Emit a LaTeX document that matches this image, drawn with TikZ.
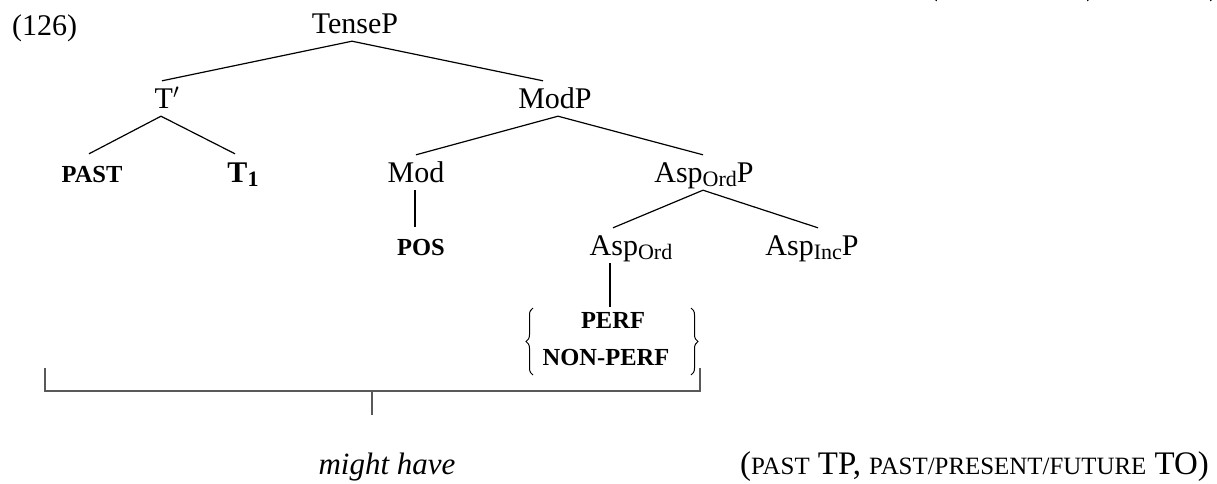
\documentclass[tikz,border=0pt]{standalone}
\usepackage{fontspec}
\setmainfont{Liberation Serif}
\usetikzlibrary{calc,decorations.pathreplacing}

% label sizes
\newcommand{\catsize}{\fontsize{30}{34}\selectfont}
\newcommand{\featsize}{\fontsize{24.5}{28}\selectfont\bfseries}
\newcommand{\subsz}[1]{\raisebox{-4pt}{\fontsize{22}{24}\selectfont #1}}
\newcommand{\fakesc}[1]{{\fontsize{24.9}{27}\selectfont #1}}

\begin{document}
\begin{tikzpicture}[x=1pt,y=-1pt,
    cat/.style={inner sep=0pt,anchor=base,text height=27pt,text depth=8pt,font=\catsize},
    feat/.style={inner sep=0pt,anchor=base,text height=28pt,text depth=6pt,font=\featsize},
    branch/.style={line width=1.2pt,black},
    span/.style={line width=1.3pt,black!65},
    curly/.style={line width=1pt,decorate,decoration={brace,amplitude=7pt,aspect=0.5}}]
  \useasboundingbox (0,0) rectangle (1217,483);

  % fragments of the line above
  \node[inner sep=0pt,anchor=base,font=\catsize] (parL) at (933,-5) {(};
  \node[inner sep=0pt,anchor=base,font=\catsize] (parR) at (1091,-5) {)};
  \node[inner sep=0pt,anchor=base,font=\catsize] (parE) at (1214,-5) {)};

  % example number
  \node[inner sep=0pt,anchor=base west,font=\catsize] (num) at (12,35) {(126)};

  % categories
  \node[cat] (TenseP)  at (355,33)  {TenseP};
  \node[cat] (Tbar)    at (167,108) {T$'$};
  \node[cat] (ModP)    at (555,108) {ModP};
  \node[cat] (Mod)     at (416,182) {Mod};
  \node[cat] (AspOrdP) at (704,182) {Asp\subsz{Ord}P};
  \node[cat] (AspOrd)  at (631,255) {Asp\subsz{Ord}};
  \node[cat] (AspIncP) at (812,255) {Asp\subsz{Inc}P};

  % features
  \node[feat] (PAST) at (92,182)  {PAST};
  \node[feat,font=\fontsize{30}{34}\selectfont\bfseries] (T1) at (243,182) {T\subsz{\bfseries 1}};
  \node[feat] (POS)  at (421,255) {POS};
  \node[inner sep=0pt,anchor=base,font=\featsize,text height=21pt,text depth=6pt] (PERF) at (613,328) {PERF};
  \node[inner sep=0pt,anchor=base,font=\featsize] (NONPERF) at (606,365) {NON-PERF};

  % braces round the two alternatives
  \coordinate (bLb) at (533,375);
  \coordinate (bLt) at (533,308);
  \coordinate (bRt) at (691,308);
  \coordinate (bRb) at (691,375);
  \draw[curly] (bLb) -- (bLt);
  \draw[curly] (bRt) -- (bRb);

  % branches
  \draw[branch] ([xshift=-3pt]TenseP.south) -- ([xshift=-5pt]Tbar.north);
  \draw[branch] ([xshift=-3pt]TenseP.south) -- ([xshift=-12pt]ModP.north);
  \draw[branch] ([xshift=-6pt]Tbar.south) -- ([xshift=-3pt]PAST.north);
  \draw[branch] ([xshift=-6pt]Tbar.south) -- ([xshift=-8pt]T1.north);
  \draw[branch] ([xshift=3pt]ModP.south) -- (Mod.north);
  \draw[branch] ([xshift=3pt]ModP.south) -- ([xshift=-1pt]AspOrdP.north);
  \draw[branch] ([xshift=-1pt]Mod.south) -- ([xshift=-6pt]POS.north);
  \draw[branch] ([xshift=-1pt]AspOrdP.south) -- ([xshift=-18pt]AspOrd.north);
  \draw[branch] ([xshift=-1pt]AspOrdP.south) -- ([xshift=6pt]AspIncP.north);
  \draw[branch] ([xshift=-21pt]AspOrd.south) -- ([xshift=-3pt]PERF.north);

  % span bracket over the spelled-out material
  \coordinate (spanL) at (45,368);
  \coordinate (spanR) at (700,368);
  \coordinate (spanMid) at (372,391);
  \node[inner sep=0pt,anchor=base,font=\fontsize{31}{34}\selectfont\itshape] (might) at (387,474) {might have};
  \draw[span] (spanL) -- (spanL |- spanMid) -- (spanR |- spanMid) -- (spanR);
  \draw[span] (spanMid) -- ++(0,24);

  % readings
  \node[inner sep=0pt,anchor=base west,font=\fontsize{32.9}{36}\selectfont] (readings) at (740,474)
    {(\fakesc{PAST} TP, \fakesc{PAST/PRESENT/FUTURE} TO)};
\end{tikzpicture}
\end{document}
